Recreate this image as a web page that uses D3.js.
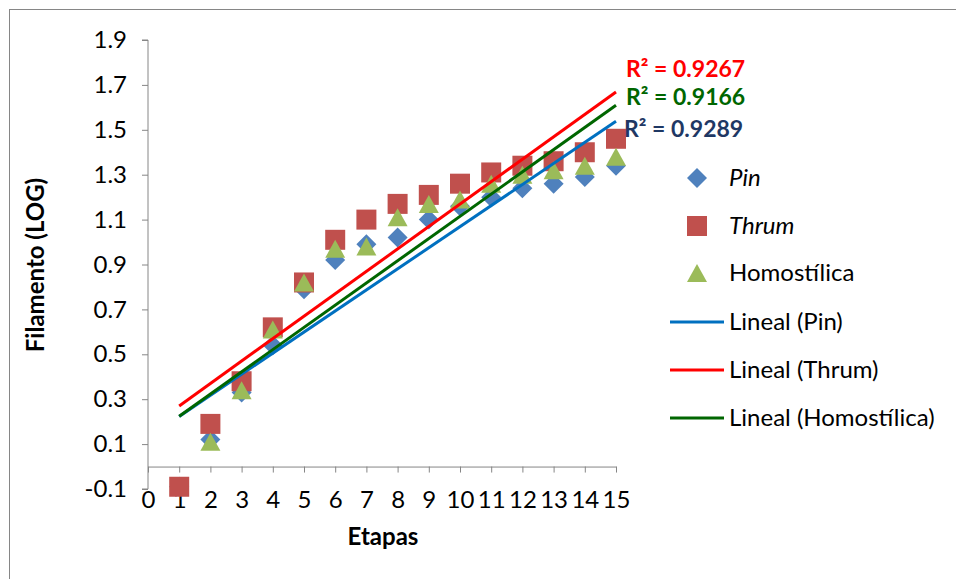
<!DOCTYPE html>
<html lang="es">
<head>
<meta charset="UTF-8">
<title>Filamento (LOG) por etapas</title>
<script src="https://d3js.org/d3.v7.min.js"></script>
<style>
  body { margin: 0; background: #fff; }
  text { font-family: Lato, "Open Sans", sans-serif; }
</style>
</head>
<body>
<script>
    // values
    var etapas = [1, 2, 3, 4, 5, 6, 7, 8, 9, 10, 11, 12, 13, 14, 15];
    var pin    = [-0.09, 0.12, 0.33, 0.54, 0.79, 0.92, 0.99, 1.02, 1.10, 1.16, 1.20, 1.24, 1.26, 1.29, 1.34];
    var thrum  = [-0.09, 0.19, 0.38, 0.62, 0.82, 1.01, 1.10, 1.17, 1.21, 1.26, 1.31, 1.34, 1.36, 1.40, 1.46];
    var homo   = [-0.15, 0.11, 0.34, 0.61, 0.82, 0.97, 0.98, 1.11, 1.17, 1.19, 1.26, 1.30, 1.32, 1.34, 1.38];

    var seriesNames = ["Pin", "Thrum", "Homostílica"];
    var trendNames  = ["Lineal (Pin)", "Lineal (Thrum)", "Lineal (Homostílica)"];
    var r2Labels    = ["R² = 0.9289", "R² = 0.9267", "R² = 0.9166"];
    var xTicks = d3.range(0, 16);
    var yTicks = [-0.1, 0.1, 0.3, 0.5, 0.7, 0.9, 1.1, 1.3, 1.5, 1.7, 1.9];

    var w = 956, h = 579;
    var fs = 24;
    var markerColors = ["#4F81BD", "#C0504D", "#9BBB59"];
    var lineColors   = ["#0070C0", "#FF0000", "#006600"];
    var r2Colors     = ["#1F3864", "#FF0000", "#006600"];
    var shapes = ["diamond", "square", "triangle"];

    var svg = d3.select("body").append("svg")
        .attr("width", w)
        .attr("height", h);

    // chart frame
    svg.append("rect")
        .attr("x", 9.5).attr("y", 9.5)
        .attr("width", 960).attr("height", 620)
        .attr("fill", "none")
        .attr("stroke", "#868686");

    var xScale = d3.scaleLinear().domain([0, 15]).range([148, 616]);
    var yScale = d3.scaleLinear().domain([-0.1, 1.9]).range([489, 40]);

    function markerPath(shape) {
        if (shape == "diamond") return "M0,-10L10,0L0,10L-10,0Z";
        if (shape == "square") return "M-10,-10H10V10H-10Z";
        return "M0,-9L10,9H-10Z";
    }

    // y axis
    var yAxis = svg.append("g")
        .attr("transform", "translate(148,0)")
        .call(d3.axisLeft(yScale).tickValues(yTicks).tickSize(6).tickPadding(15)
            .tickFormat(d3.format(".1f")));
    yAxis.select(".domain").attr("stroke", "#868686").attr("d", "M-6," + yScale(1.9) + "H0V" + yScale(-0.1) + "H-6");
    yAxis.selectAll(".tick line").attr("stroke", "#868686");
    yAxis.selectAll("text").attr("font-size", fs).attr("fill", "#000")
        .text(function(d) { return d3.format(".1f")(d).replace("−", "-"); });

    // x axis sits on y = 0, labels pushed below the plot
    var xAxis = svg.append("g")
        .attr("transform", "translate(0," + yScale(0) + ")")
        .call(d3.axisBottom(xScale).tickValues(xTicks).tickSize(6).tickSizeOuter(0));
    xAxis.select(".domain").attr("stroke", "#868686");
    xAxis.selectAll(".tick line").attr("stroke", "#868686");
    xAxis.selectAll("text")
        .attr("font-size", fs).attr("fill", "#000")
        .attr("y", 24).attr("dy", "0.71em");

    svg.append("text")
        .attr("x", 383).attr("y", 545)
        .attr("text-anchor", "middle")
        .attr("font-size", fs).attr("font-weight", "bold")
        .text("Etapas");

    svg.append("text")
        .attr("transform", "translate(44,265) rotate(-90)")
        .attr("text-anchor", "middle")
        .attr("font-size", fs).attr("font-weight", "bold")
        .text("Filamento (LOG)");

    var allSeries = [pin, thrum, homo];

    // least squares trend lines
    var trends = allSeries.map(function(ys) {
        var mx = d3.mean(etapas), my = d3.mean(ys);
        var sxy = d3.sum(etapas, function(x, i) { return (x - mx) * (ys[i] - my); });
        var sxx = d3.sum(etapas, function(x) { return (x - mx) * (x - mx); });
        var b = sxy / sxx, a = my - b * mx;
        var x0 = d3.min(etapas), x1 = d3.max(etapas);
        return [[x0, a + b * x0], [x1, a + b * x1]];
    });

    // markers (points below the axis minimum are not shown, as in the source)
    allSeries.forEach(function(ys, s) {
        svg.append("g").selectAll("path")
            .data(etapas.map(function(x, i) { return [x, ys[i]]; })
                .filter(function(d) { return d[1] >= -0.1; }))
            .enter().append("path")
            .attr("transform", function(d) { return "translate(" + xScale(d[0]) + "," + yScale(d[1]) + ")"; })
            .attr("d", markerPath(shapes[s]))
            .attr("fill", markerColors[s]);
    });

    var line = d3.line()
        .x(function(d) { return xScale(d[0]); })
        .y(function(d) { return yScale(d[1]); });

    trends.forEach(function(t, s) {
        svg.append("path")
            .attr("d", line(t))
            .attr("fill", "none")
            .attr("stroke", lineColors[s])
            .attr("stroke-width", 3);
    });

    // R² labels
    var r2Pos = [[624, 137], [626, 77], [626, 105]];
    r2Labels.forEach(function(lbl, s) {
        svg.append("text")
            .attr("x", r2Pos[s][0]).attr("y", r2Pos[s][1])
            .attr("font-size", 23).attr("font-weight", "bold")
            .attr("fill", r2Colors[s])
            .text(lbl);
    });

    // legend
    var legend = svg.append("g");
    var rowY = [178, 226, 273, 322, 370, 418];
    seriesNames.forEach(function(n, s) {
        legend.append("path")
            .attr("transform", "translate(697," + rowY[s] + ")")
            .attr("d", markerPath(shapes[s]))
            .attr("fill", markerColors[s]);
        legend.append("text")
            .attr("x", 729).attr("y", rowY[s]).attr("dy", "0.35em")
            .attr("font-size", fs)
            .attr("font-style", s < 2 ? "italic" : "normal")
            .text(n);
    });
    trendNames.forEach(function(n, s) {
        var y = rowY[s + 3];
        legend.append("line")
            .attr("x1", 670).attr("x2", 724)
            .attr("y1", y).attr("y2", y)
            .attr("stroke", lineColors[s])
            .attr("stroke-width", 3);
        legend.append("text")
            .attr("x", 729).attr("y", y).attr("dy", "0.35em")
            .attr("font-size", fs)
            .text(n);
    });
</script>
</body>
</html>
